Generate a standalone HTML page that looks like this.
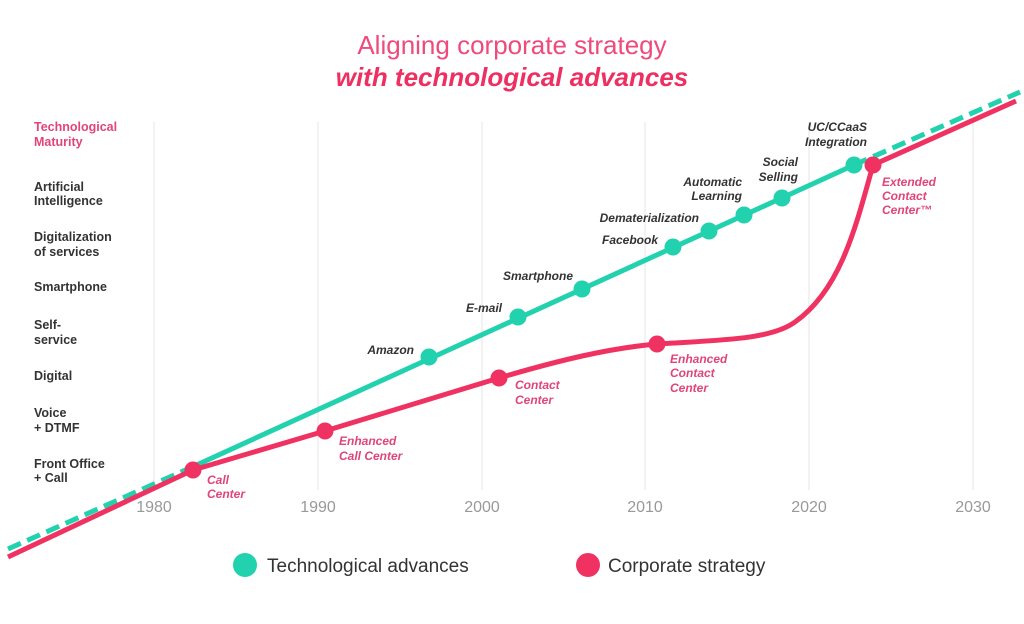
<!DOCTYPE html>
<html><head><meta charset="utf-8"><style>
body{margin:0;background:#fff;width:1024px;height:619px;overflow:hidden;font-family:"Liberation Sans",sans-serif}
</style></head><body>
<svg width="1024" height="619" viewBox="0 0 1024 619" xmlns="http://www.w3.org/2000/svg" font-family="Liberation Sans, sans-serif">
<text x="512" y="54" text-anchor="middle" font-size="26" fill="#ee4a7c">Aligning corporate strategy</text>
<text x="512" y="86" text-anchor="middle" font-size="26" font-weight="bold" font-style="italic" fill="#ee2f62">with technological advances</text>
<g stroke="#e8e8e8" stroke-width="1.2">
<line x1="154" y1="122" x2="154" y2="490"/><line x1="318" y1="122" x2="318" y2="490"/><line x1="482" y1="122" x2="482" y2="490"/><line x1="645" y1="122" x2="645" y2="490"/><line x1="809" y1="122" x2="809" y2="490"/><line x1="973" y1="122" x2="973" y2="490"/>
</g>
<g font-size="16" fill="#999" text-anchor="middle">
<text x="154" y="512">1980</text><text x="318" y="512">1990</text><text x="482" y="512">2000</text><text x="645" y="512">2010</text><text x="809" y="512">2020</text><text x="973" y="512">2030</text>
</g>
<g font-size="12.5" font-weight="bold" fill="#333">
<text x="34" y="131" fill="#e0457a">Technological</text><text x="34" y="146" fill="#e0457a">Maturity</text>
<text x="34" y="191">Artificial</text><text x="34" y="205">Intelligence</text>
<text x="34" y="241">Digitalization</text><text x="34" y="256">of services</text>
<text x="34" y="291">Smartphone</text>
<text x="34" y="329">Self-</text><text x="34" y="344">service</text>
<text x="34" y="380">Digital</text>
<text x="34" y="417">Voice</text><text x="34" y="432">+ DTMF</text>
<text x="34" y="468">Front Office</text><text x="34" y="482">+ Call</text>
</g>
<g stroke="#22d1ad" stroke-width="5" fill="none" stroke-linecap="butt">
<line x1="8" y1="549" x2="190" y2="468" stroke-dasharray="14,7"/>
<line x1="190" y1="468" x2="854" y2="165"/>
<line x1="854" y1="165" x2="1020" y2="92" stroke-dasharray="14,7"/>
</g>
<path d="M8,557 L193,470 L325,431 L499,378 C560,360 610,348 657,344 C720,340 770,340 795,322 C840,290 855,230 873,165 L1016,101" stroke="#ef3261" stroke-width="5" fill="none" stroke-linejoin="round"/>
<g fill="#22d1ad">
<circle cx="429" cy="357" r="8.5"/><circle cx="518" cy="317" r="8.5"/><circle cx="582" cy="289" r="8.5"/><circle cx="673" cy="247" r="8.5"/><circle cx="709" cy="231" r="8.5"/><circle cx="744" cy="215" r="8.5"/><circle cx="782" cy="198" r="8.5"/><circle cx="854" cy="165" r="8.5"/>
</g>
<g fill="#ef3261">
<circle cx="193" cy="470" r="8.5"/><circle cx="325" cy="431" r="8.5"/><circle cx="499" cy="378" r="8.5"/><circle cx="657" cy="344" r="8.5"/><circle cx="873" cy="165" r="8.5"/>
</g>
<g font-size="12" font-weight="bold" font-style="italic" fill="#333" text-anchor="end">
<text x="414" y="354">Amazon</text>
<text x="502" y="312">E-mail</text>
<text x="573" y="280">Smartphone</text>
<text x="658" y="244">Facebook</text>
<text x="699" y="222">Dematerialization</text>
<text x="742" y="186">Automatic</text><text x="742" y="200">Learning</text>
<text x="798" y="166">Social</text><text x="798" y="181">Selling</text>
<text x="867" y="131">UC/CCaaS</text><text x="867" y="146">Integration</text>
</g>
<g font-size="12" font-weight="bold" font-style="italic" fill="#e0457a">
<text x="207" y="484">Call</text><text x="207" y="498">Center</text>
<text x="339" y="445">Enhanced</text><text x="339" y="460">Call Center</text>
<text x="515" y="389">Contact</text><text x="515" y="404">Center</text>
<text x="670" y="363">Enhanced</text><text x="670" y="377">Contact</text><text x="670" y="392">Center</text>
<text x="882" y="186">Extended</text><text x="882" y="200">Contact</text><text x="882" y="214">Center™</text>
</g>
<circle cx="245" cy="565" r="12" fill="#22d1ad"/>
<text x="267" y="572" font-size="19" fill="#333">Technological advances</text>
<circle cx="588" cy="565" r="12" fill="#ef3261"/>
<text x="608" y="572" font-size="19" fill="#333">Corporate strategy</text>
</svg>
</body></html>
